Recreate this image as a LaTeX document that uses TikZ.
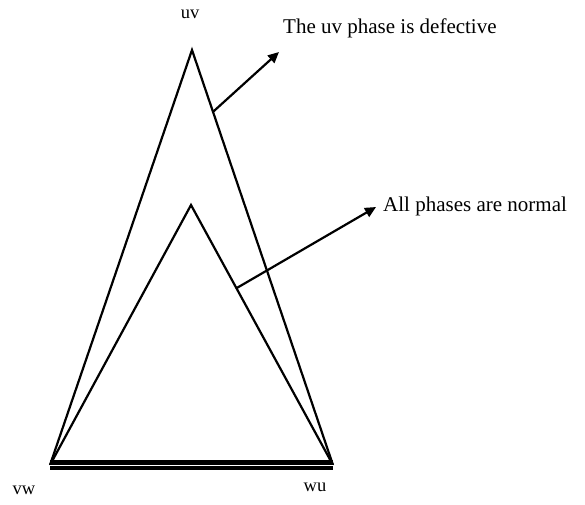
\documentclass[tikz,border=0pt]{standalone}
\usepackage{fontspec}
\setmainfont{Liberation Serif}
\usetikzlibrary{arrows.meta,calc}
\begin{document}
\begin{tikzpicture}[x=1pt,y=-1pt,
  edge/.style={line width=2.2pt},
  pointer/.style={line width=2.2pt,-{Triangle[length=11pt,width=10pt]}},
  lbl/.style={inner sep=0pt,font=\fontsize{21}{24}\selectfont},
  vlbl/.style={inner sep=0pt,font=\fontsize{18.5}{21}\selectfont}]
\useasboundingbox (0,0) rectangle (585,504);
\coordinate (A) at (192,50);
\coordinate (B) at (191,205);
\coordinate (L) at (50,465);
\coordinate (R) at (333,465);
\draw[edge,line join=miter] (L) -- (A) -- (R);
\draw[edge,line join=miter] (L) -- (B) -- (R);
\draw[line width=5pt,double=white,double distance=0.5pt] (L) -- (R);
\node[vlbl] (uv) at (190,14) {uv};
\node[vlbl] (vw) at (24,490) {vw};
\node[vlbl] (wu) at (315,487) {wu};
\node[lbl,anchor=west] (t1) at (283,28) {The uv phase is defective};
\node[lbl,anchor=west] (t2) at (383,206) {All phases are normal};
\coordinate (p1) at ($(A)!0.149!(R)$);
\coordinate (q1) at (279,52);
\coordinate (p2) at ($(B)!0.32!(R)$);
\coordinate (q2) at (376,207);
\draw[pointer] (p1) -- (q1);
\draw[pointer] (p2) -- (q2);
\end{tikzpicture}
\end{document}
